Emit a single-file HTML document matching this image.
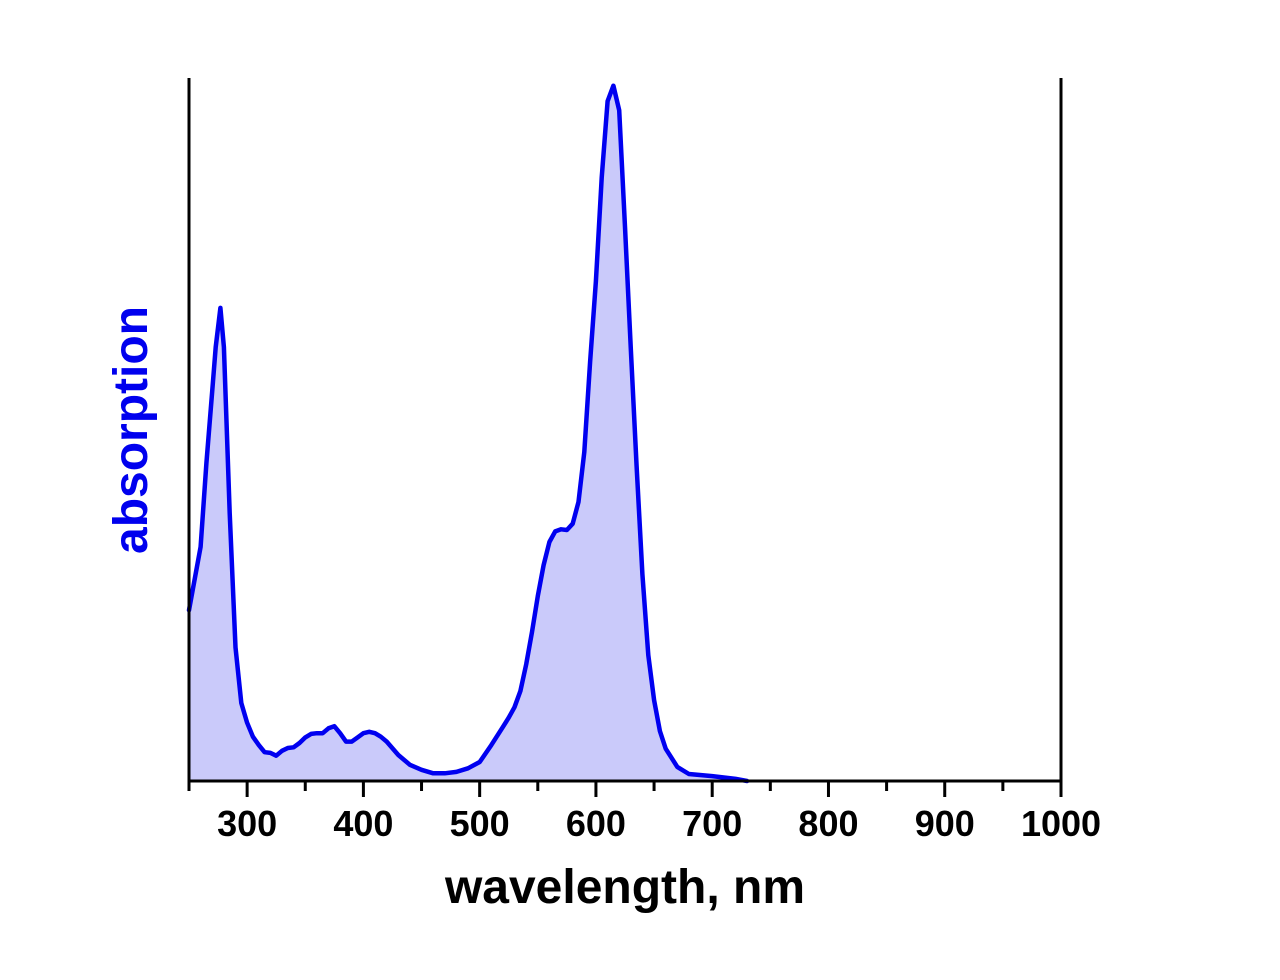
<!DOCTYPE html>
<html><head><meta charset="utf-8"><style>
html,body{margin:0;padding:0;background:#fff;}
svg{display:block;font-family:"Liberation Sans",Arial,sans-serif;font-weight:bold;}
</style></head><body>
<svg id="chart" width="1280" height="980" viewBox="0 0 1280 980" xmlns="http://www.w3.org/2000/svg">
<g id="plot"></g>
<g id="axes"></g>
<text x="625" y="903" text-anchor="middle" font-size="48" fill="#000">wavelength, nm</text>
<text transform="translate(147,430) rotate(-90)" text-anchor="middle" font-size="48" fill="#0000ee">absorption</text>
</svg>
<script>
const wavelengths = [250,260,265,270,273,277,280,285,290,295,300,305,310,315,320,325,330,335,340,345,350,355,360,365,370,375,380,385,390,395,400,405,410,415,420,430,440,450,460,470,480,490,500,510,520,525,530,535,540,545,550,555,560,565,570,575,580,585,590,595,600,605,610,615,620,625,630,635,640,645,650,655,660,670,680,700,720,730];
const absorbance = [0.243,0.333,0.452,0.556,0.617,0.673,0.617,0.381,0.19,0.111,0.083,0.063,0.051,0.041,0.040,0.036,0.043,0.047,0.048,0.054,0.062,0.067,0.068,0.068,0.075,0.078,0.068,0.056,0.056,0.062,0.068,0.070,0.068,0.063,0.056,0.037,0.023,0.016,0.011,0.011,0.013,0.018,0.027,0.051,0.077,0.090,0.105,0.128,0.166,0.212,0.263,0.307,0.340,0.355,0.358,0.357,0.366,0.397,0.468,0.596,0.711,0.858,0.967,0.989,0.954,0.788,0.615,0.448,0.294,0.179,0.115,0.071,0.046,0.020,0.010,0.007,0.003,0.0];
const majorTicks = [300,400,500,600,700,800,900,1000];
const minorTicks = [250,350,450,550,650,750,850,950];

const X0=189, X1=1061, Y0=781, Y1=78;
const xMin=250, xMax=1000, yMin=0, yMax=1;
const xs = v => X0 + (v-xMin)/(xMax-xMin)*(X1-X0);
const ys = v => Y0 - (v-yMin)/(yMax-yMin)*(Y0-Y1);
const NS="http://www.w3.org/2000/svg";
const plot=document.getElementById('plot'), axes=document.getElementById('axes');
function mk(tag, attrs, parent){const e=document.createElementNS(NS,tag);for(const k in attrs)e.setAttribute(k,attrs[k]);parent.appendChild(e);return e;}

let pts = wavelengths.map((w,i)=>xs(w).toFixed(1)+','+ys(absorbance[i]).toFixed(1));
const area = mk('path',{d:'M'+xs(wavelengths[0])+','+Y0+' L'+pts.join(' L')+' L'+xs(wavelengths[wavelengths.length-1])+','+Y0+' Z',fill:'#cacafa',stroke:'none'},plot);


const line = mk('path',{d:'M'+pts.join(' L'),fill:'none',stroke:'#0000f0','stroke-width':4.5,'stroke-linejoin':'round','stroke-linecap':'round'},plot);



const frame = mk('path',{d:`M${X0},${Y1} L${X0},${Y0} L${X1},${Y0} L${X1},${Y1}`,fill:'none',stroke:'#000','stroke-width':3},axes);


majorTicks.forEach(t=>{
  const tk=mk('line',{x1:xs(t),x2:xs(t),y1:Y0,y2:Y0+16,stroke:'#000','stroke-width':3},axes);
  
  
  const lb=mk('text',{x:xs(t),y:836,'text-anchor':'middle','font-size':36,fill:'#000'},axes);
  lb.textContent=t;
  
  
});
minorTicks.forEach(t=>{
  const tk=mk('line',{x1:xs(t),x2:xs(t),y1:Y0,y2:Y0+10,stroke:'#000','stroke-width':3},axes);
  
  
});
</script>
</body></html>
